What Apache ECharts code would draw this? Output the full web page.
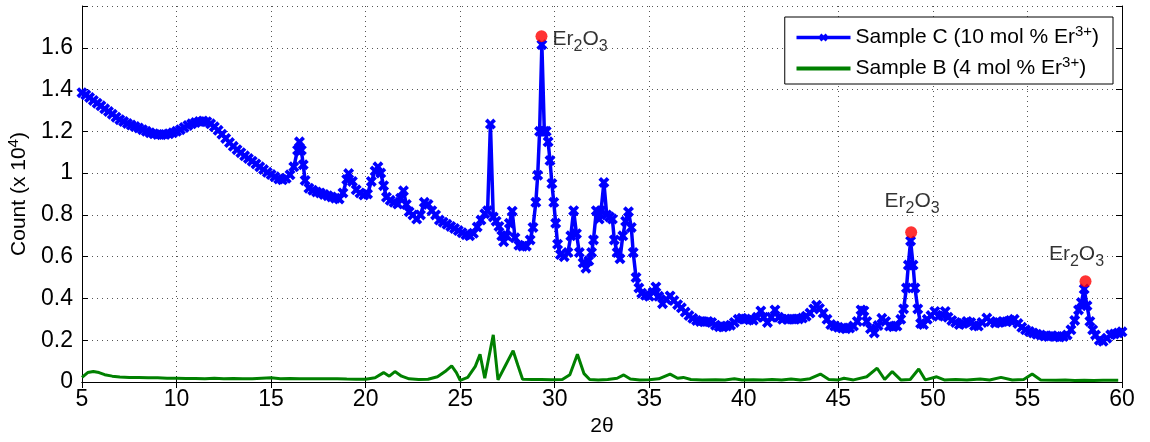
<!DOCTYPE html>
<html><head><meta charset="utf-8">
<script src="https://cdn.jsdelivr.net/npm/echarts@6/dist/echarts.min.js"></script>
<style>html,body{margin:0;padding:0;background:#fff}#c{width:1150px;height:442px}</style>
</head><body><div id="c"></div>
<script>
// Sample C (10 mol % Er3+), 2θ positions and counts (x 10^4)
const sampleC_x = [5.0,5.2,5.4,5.6,5.8,6.0,6.2,6.4,6.6,6.8,7.0,7.2,7.4,7.6,7.8,8.0,8.2,8.4,8.6,8.8,9.0,9.2,9.4,9.6,9.8,10.0,10.2,10.4,10.6,10.8,11.0,11.2,11.4,11.6,11.8,12.0,12.2,12.4,12.6,12.8,13.0,13.2,13.4,13.6,13.8,14.0,14.2,14.4,14.6,14.8,15.0,15.2,15.4,15.6,15.8,16.0,16.2,16.4,16.5,16.6,16.7,16.8,17.0,17.2,17.4,17.6,17.8,18.0,18.2,18.4,18.6,18.8,19.0,19.1,19.3,19.5,19.7,19.9,20.1,20.3,20.5,20.65,20.8,20.95,21.1,21.3,21.5,21.7,21.85,22.0,22.15,22.3,22.5,22.7,22.9,23.1,23.3,23.5,23.7,23.9,24.1,24.3,24.5,24.7,24.9,25.1,25.3,25.5,25.7,25.9,26.1,26.3,26.45,26.6,26.75,26.9,27.05,27.2,27.3,27.45,27.6,27.75,27.9,28.1,28.3,28.5,28.7,28.85,29.0,29.1,29.2,29.32,29.45,29.55,29.65,29.75,29.85,29.95,30.05,30.15,30.3,30.5,30.7,30.85,31.0,31.15,31.3,31.5,31.65,31.8,31.95,32.05,32.2,32.35,32.45,32.6,32.75,32.9,33.05,33.15,33.3,33.45,33.6,33.75,33.9,34.05,34.15,34.3,34.45,34.6,34.8,35.0,35.2,35.35,35.5,35.7,35.9,36.1,36.3,36.5,36.7,36.9,37.1,37.3,37.5,37.7,37.9,38.1,38.3,38.5,38.7,38.9,39.1,39.3,39.5,39.7,39.9,40.1,40.3,40.5,40.7,40.9,41.05,41.25,41.45,41.65,41.85,42.05,42.3,42.5,42.7,42.9,43.1,43.3,43.5,43.7,43.85,44.0,44.2,44.4,44.6,44.8,45.0,45.2,45.4,45.6,45.8,46.0,46.2,46.35,46.5,46.7,46.9,47.1,47.3,47.5,47.7,47.9,48.1,48.3,48.45,48.6,48.7,48.82,48.95,49.05,49.2,49.35,49.5,49.7,49.9,50.1,50.3,50.5,50.65,50.8,51.0,51.2,51.4,51.6,51.8,52.0,52.2,52.4,52.6,52.85,53.05,53.3,53.5,53.7,53.9,54.1,54.3,54.5,54.7,54.9,55.1,55.3,55.5,55.7,55.9,56.1,56.3,56.5,56.7,56.9,57.1,57.3,57.5,57.7,57.85,58.0,58.15,58.3,58.45,58.6,58.8,59.0,59.2,59.4,59.6,59.8,60.0];
const sampleC_y = [1.385,1.375,1.362,1.348,1.335,1.322,1.308,1.295,1.282,1.268,1.256,1.247,1.238,1.230,1.223,1.216,1.208,1.200,1.193,1.188,1.185,1.184,1.185,1.188,1.193,1.200,1.208,1.218,1.228,1.236,1.242,1.247,1.249,1.246,1.236,1.222,1.205,1.186,1.166,1.146,1.128,1.112,1.098,1.083,1.070,1.057,1.044,1.030,1.017,1.004,0.993,0.982,0.972,0.968,0.975,0.992,1.030,1.110,1.150,1.110,1.040,0.965,0.928,0.918,0.910,0.905,0.898,0.892,0.886,0.880,0.876,0.905,0.970,0.998,0.960,0.920,0.905,0.895,0.900,0.960,1.010,1.030,1.000,0.940,0.885,0.870,0.860,0.852,0.880,0.915,0.850,0.815,0.800,0.780,0.800,0.860,0.850,0.820,0.800,0.775,0.765,0.755,0.745,0.735,0.725,0.715,0.705,0.700,0.712,0.742,0.775,0.805,0.820,1.235,0.790,0.770,0.745,0.700,0.672,0.700,0.760,0.818,0.690,0.655,0.650,0.650,0.680,0.740,0.860,0.990,1.200,1.615,1.200,1.200,1.150,1.060,0.950,0.860,0.760,0.660,0.610,0.600,0.620,0.700,0.820,0.710,0.620,0.570,0.545,0.580,0.620,0.680,0.820,0.780,0.820,0.955,0.800,0.790,0.780,0.680,0.620,0.590,0.700,0.770,0.815,0.740,0.620,0.500,0.450,0.425,0.415,0.410,0.430,0.455,0.410,0.375,0.395,0.412,0.390,0.370,0.355,0.335,0.318,0.305,0.295,0.290,0.288,0.290,0.285,0.272,0.265,0.263,0.268,0.272,0.285,0.300,0.305,0.302,0.298,0.296,0.310,0.340,0.310,0.285,0.310,0.345,0.310,0.300,0.300,0.302,0.300,0.302,0.306,0.315,0.330,0.350,0.368,0.352,0.330,0.300,0.275,0.268,0.262,0.258,0.255,0.258,0.268,0.290,0.345,0.340,0.290,0.255,0.235,0.270,0.305,0.290,0.268,0.265,0.268,0.300,0.350,0.450,0.560,0.675,0.560,0.450,0.350,0.280,0.275,0.300,0.318,0.338,0.315,0.320,0.338,0.310,0.295,0.285,0.275,0.280,0.290,0.285,0.270,0.268,0.285,0.306,0.290,0.282,0.285,0.290,0.288,0.295,0.300,0.280,0.262,0.250,0.242,0.235,0.228,0.225,0.220,0.218,0.222,0.218,0.215,0.218,0.225,0.250,0.295,0.345,0.380,0.445,0.365,0.290,0.250,0.225,0.200,0.195,0.210,0.226,0.230,0.235,0.240];

// Sample B (4 mol % Er3+)
const sampleB_x = [5.0,5.3,5.6,5.9,6.2,6.6,7.0,7.5,8.0,8.5,9.0,9.5,10.0,10.5,11.0,11.5,12.0,12.5,13.0,13.5,14.0,14.5,15.0,15.5,16.0,16.5,17.0,17.5,18.0,18.5,19.0,19.5,20.0,20.5,20.95,21.25,21.55,21.9,22.3,22.8,23.3,23.8,24.2,24.55,24.8,25.0,25.4,25.8,26.05,26.3,26.75,27.0,27.4,27.8,28.05,28.3,28.8,29.3,29.8,30.4,30.8,31.2,31.55,31.85,32.3,32.8,33.3,33.65,34.0,34.5,35.0,35.5,36.1,36.5,36.8,37.2,37.8,38.5,39.0,39.5,39.9,40.5,41.0,41.5,42.0,42.5,43.0,43.5,44.05,44.5,45.0,45.3,45.8,46.5,47.05,47.45,47.85,48.3,48.8,49.25,49.6,50.2,50.6,51.2,51.8,52.5,53.0,53.6,54.2,54.8,55.25,55.7,56.5,57.0,57.5,58.0,58.5,59.0,59.8];
const sampleB_y = [0.022,0.045,0.050,0.045,0.035,0.028,0.024,0.022,0.022,0.020,0.020,0.018,0.018,0.017,0.017,0.016,0.018,0.016,0.017,0.016,0.016,0.018,0.020,0.016,0.017,0.015,0.016,0.015,0.015,0.016,0.014,0.013,0.013,0.020,0.045,0.028,0.050,0.028,0.015,0.012,0.013,0.025,0.050,0.077,0.045,0.008,0.022,0.075,0.133,0.018,0.226,0.010,0.080,0.150,0.080,0.013,0.012,0.012,0.011,0.012,0.035,0.133,0.040,0.012,0.010,0.012,0.018,0.034,0.014,0.010,0.011,0.015,0.038,0.018,0.022,0.012,0.010,0.011,0.010,0.016,0.010,0.011,0.010,0.012,0.010,0.014,0.010,0.016,0.038,0.012,0.010,0.018,0.010,0.025,0.066,0.012,0.050,0.010,0.012,0.062,0.010,0.025,0.010,0.012,0.010,0.014,0.010,0.022,0.010,0.012,0.038,0.010,0.008,0.009,0.007,0.008,0.007,0.008,0.008];

// Er2O3 marked peaks
const peakX = [29.3, 48.85, 58.07];
const peakY = [1.655, 0.717, 0.482];

// Axis ticks
const xTicks = {min: 5, max: 60, step: 5};
const yTicks = {min: 0, max: 1.8, step: 0.2};

const FONT = 'Liberation Sans, Arial, Helvetica, sans-serif';
const FS = 21;      // legend & annotations
const AFS = 23;     // axes
const w = 2.4;
const xMark = 'path://M0,' + w + 'L' + w + ',0L5,' + (5 - w) + 'L' + (10 - w) + ',0L10,' + w + 'L' + (5 + w) + ',5L10,' + (10 - w) +
  'L' + (10 - w) + ',10L5,' + (5 + w) + 'L' + w + ',10L0,' + (10 - w) + 'L' + (5 - w) + ',5Z';

const pairs = (xs, ys) => xs.map((x, i) => [x, ys[i]]);
const labelPlacement = [
  {position: 'right', distance: 5, offset: [0, 3]},
  {position: 'top', distance: 10, offset: [1, 0]},
  {position: 'top', distance: 6, offset: [-9, 0]}
];
const erRich = {
  n: {fontSize: FS, fontFamily: FONT, color: '#000'},
  s: {fontSize: 16, fontFamily: FONT, color: '#000', padding: [14, 0, 0, 0]}
};
const supRich = (fs) => ({
  t: {fontSize: fs, fontFamily: FONT, color: '#000'},
  p: {fontSize: Math.round(fs * 0.72), fontFamily: FONT, color: '#000', padding: [0, 0, Math.round(fs * 0.58), 0]}
});

const chart = echarts.init(document.getElementById('c'), null, {renderer: 'canvas'});
const frameAxis = {
  axisLine: {show: true, lineStyle: {color: '#000', width: 1}},
  axisTick: {show: true, inside: true, length: 6, lineStyle: {color: '#000'}},
};
chart.setOption({
  animation: false,
  backgroundColor: '#fff',
  textStyle: {fontFamily: FONT},
  grid: {left: 82, right: 28, top: 6, bottom: 60, containLabel: false, outerBoundsMode: 'none'},
  legend: {
    orient: 'vertical', right: 37, top: 17,
    backgroundColor: '#fff', borderColor: '#000', borderWidth: 1,
    padding: [7, 14, 5, 10], itemGap: 7, itemWidth: 54, itemHeight: 10,
    data: [
      {name: 'Sample C (10 mol % Er3+)', lineStyle: {width: 3.5, color: '#0000ff'}},
      {name: 'Sample B (4 mol % Er3+)', icon: 'path://M0,0H54V4H0Z', itemStyle: {color: '#008000'}}
    ],
    formatter: function (n) {
      return n.replace(/^(.*Er)3\+\)$/, function (m, a) { return '{t|' + a + '}{p|3+}{t|)}'; });
    },
    textStyle: {fontSize: FS, color: '#000', fontFamily: FONT, rich: supRich(FS)}
  },
  xAxis: [
    Object.assign({
      type: 'value', position: 'bottom', min: xTicks.min, max: xTicks.max, interval: xTicks.step,
      name: '2θ', nameLocation: 'middle', nameGap: 34,
      nameTextStyle: {fontSize: FS, color: '#000', fontFamily: FONT},
      axisLabel: {fontSize: AFS, color: '#000', margin: 6, fontFamily: FONT},
      splitLine: {show: true, lineStyle: {color: '#555', type: [1, 4], width: 1}}
    }, frameAxis),
    Object.assign({
      type: 'value', position: 'top', min: xTicks.min, max: xTicks.max, interval: xTicks.step,
      axisLabel: {show: false}, splitLine: {show: false}
    }, frameAxis)
  ],
  yAxis: [
    Object.assign({
      type: 'value', position: 'left', min: yTicks.min, max: yTicks.max, interval: yTicks.step,
      name: '{t|Count (x 10}{p|4}{t|)}', nameLocation: 'middle', nameGap: 45,
      nameTextStyle: {fontSize: FS, color: '#000', fontFamily: FONT, rich: supRich(FS)},
      axisLabel: {fontSize: AFS, color: '#000', margin: 9, fontFamily: FONT,
        formatter: function (v) { return v > 1.7 ? '' : String(Math.round(v * 10) / 10); }},
      splitLine: {show: true, lineStyle: {color: '#555', type: [1, 4], width: 1}}
    }, frameAxis),
    Object.assign({
      type: 'value', position: 'right', min: yTicks.min, max: yTicks.max, interval: yTicks.step,
      axisLabel: {show: false}, splitLine: {show: false}
    }, frameAxis)
  ],
  series: [
    {
      name: 'Sample C (10 mol % Er3+)', type: 'line', xAxisIndex: 0, yAxisIndex: 0,
      data: pairs(sampleC_x, sampleC_y),
      symbol: xMark, symbolSize: 11, showAllSymbol: true,
      lineStyle: {color: '#0000ff', width: 3.5},
      itemStyle: {color: '#0000ff'},
      z: 3
    },
    {
      name: 'Sample B (4 mol % Er3+)', type: 'line', xAxisIndex: 0, yAxisIndex: 0,
      data: pairs(sampleB_x, sampleB_y),
      symbol: 'none', showSymbol: false,
      lineStyle: {color: '#008000', width: 3},
      itemStyle: {color: '#008000'},
      z: 2
    },
    {
      name: 'Er2O3', type: 'scatter', xAxisIndex: 0, yAxisIndex: 0,
      symbol: 'circle', symbolSize: 12,
      itemStyle: {color: '#ff0000'},
      z: 5,
      data: peakX.map(function (x, i) {
        return {
          value: [x, peakY[i]],
          label: Object.assign({
            show: true,
            formatter: '{n|Er}{s|2}{n|O}{s|3}',
            rich: erRich
          }, labelPlacement[i])
        };
      })
    }
  ]
});
</script>
</body></html>
